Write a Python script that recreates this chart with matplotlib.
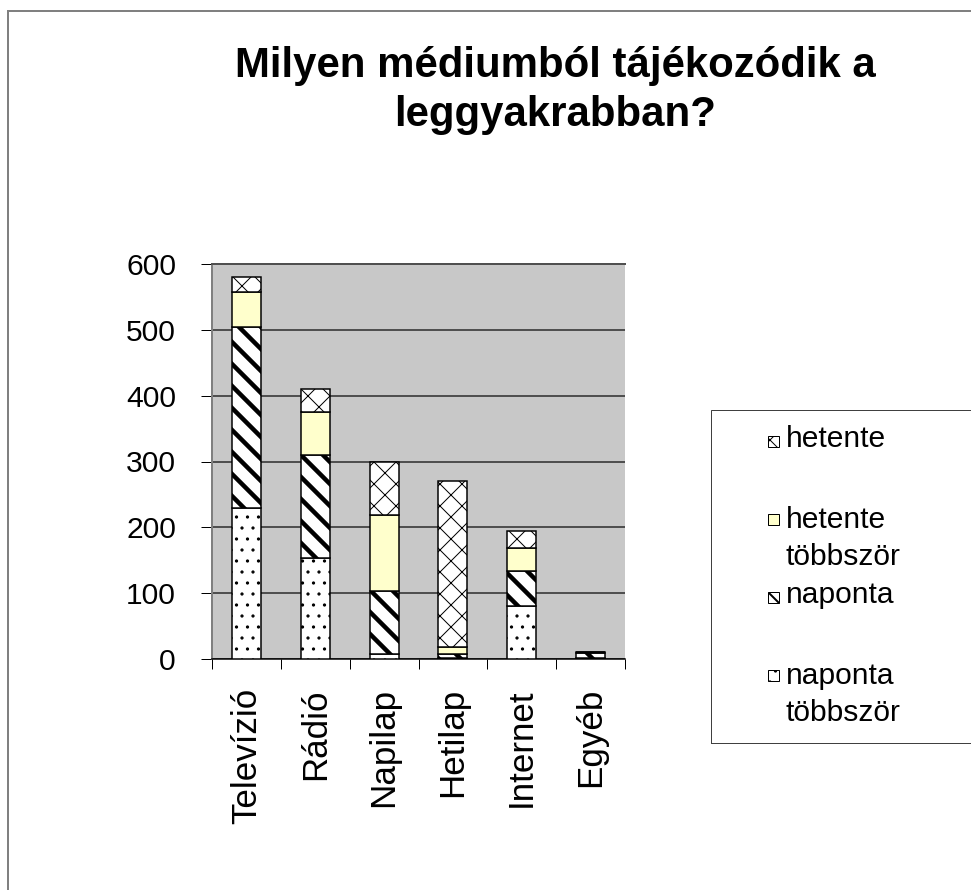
import matplotlib
matplotlib.use('Agg')
import matplotlib.pyplot as plt
from matplotlib.patches import Rectangle
import numpy as np

categories = ['Televízió', 'Rádió', 'Napilap', 'Hetilap', 'Internet', 'Egyéb']
series_names = ['naponta\ntöbbször', 'naponta', 'hetente\ntöbbször', 'hetente']
naponta_tobbszor = [230, 154, 8, 1, 81, 1]
naponta = [274, 156, 96, 7, 53, 8]
hetente_tobbszor = [53, 65, 114, 10, 35, 1]
hetente = [24, 35, 81, 253, 26, 1]
y_ticks = [0, 100, 200, 300, 400, 500, 600]

W, H, DPI = 971, 890, 66


def pt(px):
    # pixel size -> points at this dpi
    return px * 72 / DPI


plt.rcParams['font.family'] = ['Liberation Sans', 'DejaVu Sans']

# fill styles, bottom to top
styles = [
    dict(fc='white', hatch='.', hlw=1.0),
    dict(fc='white', hatch='\\', hlw=4.5),
    dict(fc='#ffffcc', hatch=None, hlw=1.0),
    dict(fc='white', hatch='x', hlw=1.0),
]

fig = plt.figure(figsize=(W / DPI, H / DPI), dpi=DPI)
ax = fig.add_axes([212 / W, 1 - 659 / H, 413 / W, 395 / H])

x = np.arange(len(categories))
bottom = np.zeros(len(categories))
for vals, st in zip([naponta_tobbszor, naponta, hetente_tobbszor, hetente], styles):
    with plt.rc_context({'hatch.linewidth': pt(st['hlw'])}):
        ax.bar(x, vals, 0.42, bottom=bottom, color=st['fc'], hatch=st['hatch'],
               edgecolor='black', linewidth=pt(1.5), zorder=3)
    bottom += np.array(vals)

ax.set_facecolor('#c8c8c8')
ax.set_xlim(-0.5, len(categories) - 0.5)
ax.set_ylim(0, 600)
ax.set_yticks(y_ticks)
ax.grid(axis='y', color='#505050', linewidth=pt(2))
ax.set_axisbelow(True)

ax.tick_params(axis='y', length=pt(11), width=pt(1), pad=pt(25), labelsize=pt(30))
ax.set_xticks(x, categories, rotation=90)
ax.tick_params(axis='x', which='major', length=0, pad=pt(29), labelsize=pt(35))
ax.set_xticks(np.arange(-0.5, len(categories)), minor=True)
ax.tick_params(axis='x', which='minor', length=pt(10), width=pt(1))

ax.spines['right'].set_visible(False)
ax.spines['top'].set_color('#505050')
ax.spines['top'].set_linewidth(pt(2))
ax.spines['left'].set_color('#808080')
ax.spines['left'].set_linewidth(pt(2))
ax.spines['bottom'].set_linewidth(pt(1.5))

# outer chart frame
fig.add_artist(Rectangle((8 / W, -0.1), 1.2, 1 - 11 / H + 0.1, transform=fig.transFigure,
                         fill=False, edgecolor='#808080', linewidth=pt(2)))

# baseline of a multi-line text is that of its last line
fig.text(555 / W, 1 - 126 / H, 'Milyen médiumból tájékozódik a\nleggyakrabban?',
         ha='center', va='baseline', fontsize=pt(42), fontweight='bold', linespacing=1.3)

# legend drawn by hand so the swatch sits on the first text line
fig.add_artist(Rectangle((711 / W, 1 - 743 / H), 0.5, 333 / H, transform=fig.transFigure,
                         fill=False, edgecolor='#404040', linewidth=pt(1)))
for i, (name, st) in enumerate(zip(series_names[::-1], styles[::-1])):
    base = 447 + 78 * i
    with plt.rc_context({'hatch.linewidth': pt(min(st['hlw'], 2.0))}):
        fig.add_artist(Rectangle((768 / W, 1 - base / H), 11 / W, 11 / H,
                                 transform=fig.transFigure, facecolor=st['fc'],
                                 hatch=st['hatch'], edgecolor='black', linewidth=pt(1)))
    last = base + 40 * name.count('\n')
    fig.text(786 / W, 1 - last / H, name, ha='left', va='baseline',
             fontsize=pt(30), linespacing=1.4)

fig.savefig('out.png', dpi=DPI)
